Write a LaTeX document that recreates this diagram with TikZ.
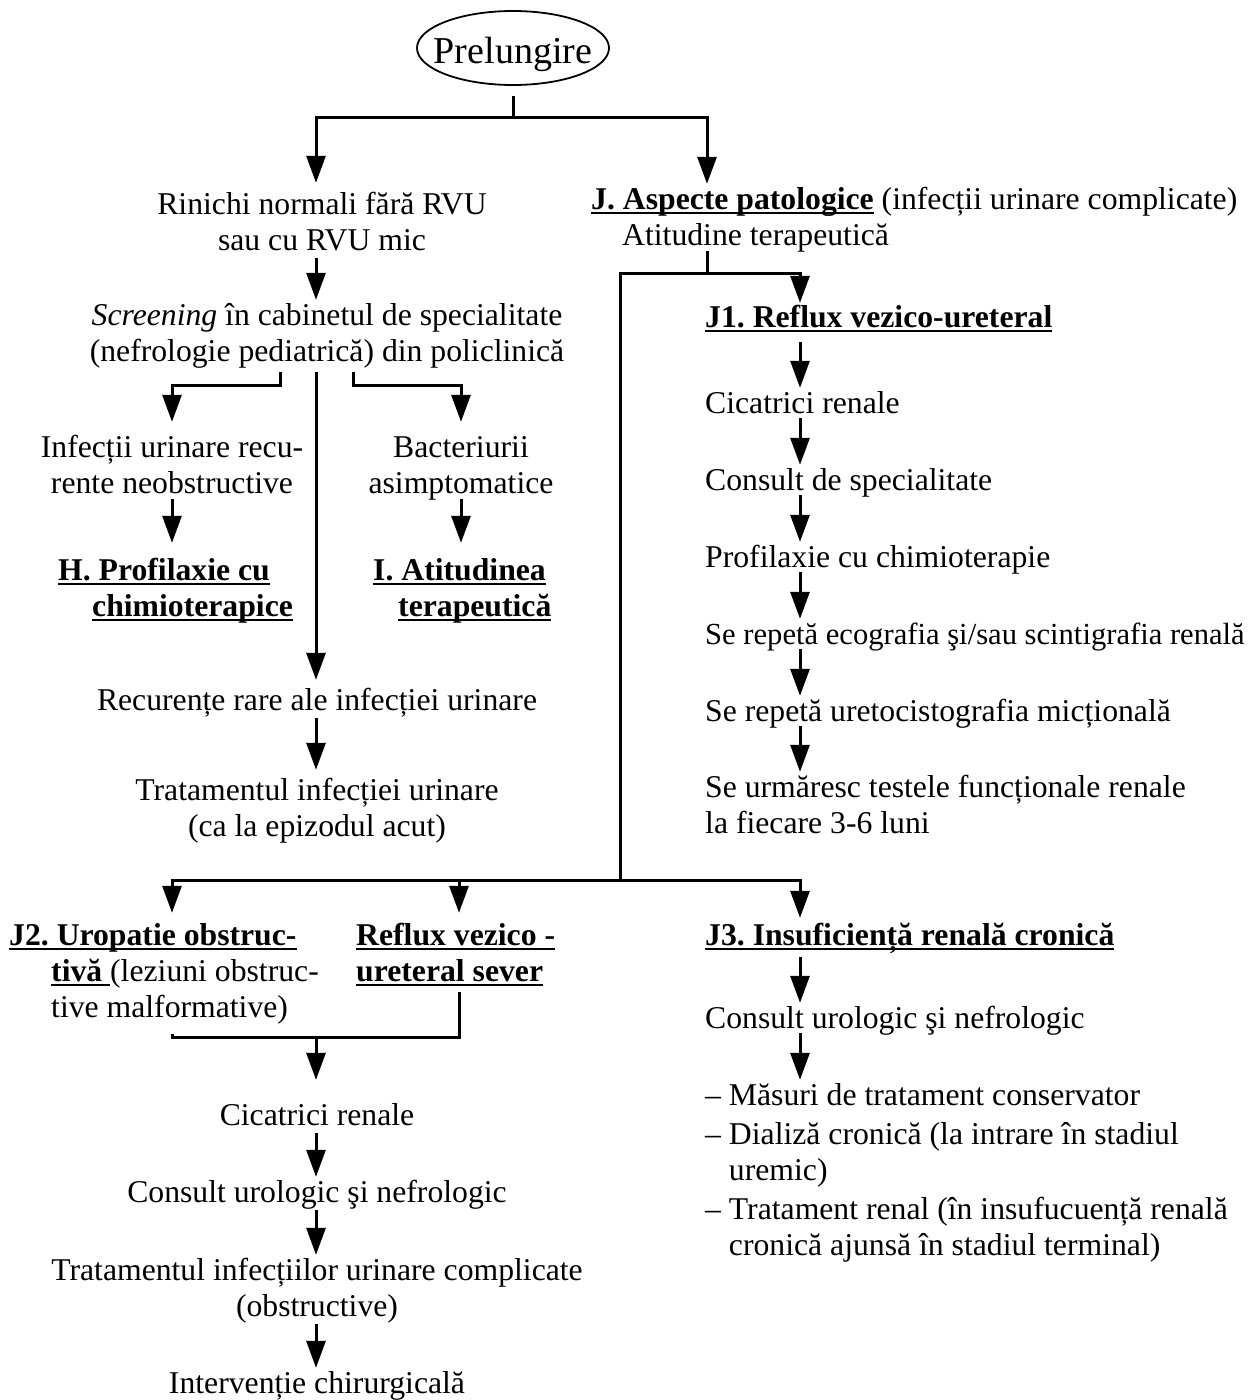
\documentclass[tikz,border=0pt]{standalone}
\usepackage{fontspec}
\setmainfont{Liberation Serif}
\usetikzlibrary{arrows.meta,shapes.geometric,calc}
\newsavebox\ulbox
\newcommand\myul[1]{\sbox\ulbox{#1}\rlap{\rule[-5pt]{\wd\ulbox}{1.8pt}}\usebox\ulbox}
\newcommand\fs{\fontsize{31.7}{36}\selectfont}
\frenchspacing
\begin{document}
\begin{tikzpicture}[x=1pt,y=-1pt,
 ln/.style={line width=3pt},
 arr/.style={line width=3pt,-{Triangle[length=27pt,width=19pt]}},
 txt/.style={inner sep=0pt,font=\fs,align=center,anchor=north},
 ltxt/.style={inner sep=0pt,font=\fs,align=left,anchor=north west}]
\fill[white] (0,0) rectangle (1259,1400);
\useasboundingbox (0,0) rectangle (1259,1400);

% columns and junctions
\coordinate (colA) at (316,0);
\coordinate (colJ) at (800,0);
\coordinate (colR) at (707,0);
\coordinate (colL) at (172,0);
\coordinate (colM) at (459,0);
\coordinate (top) at (513,117);
\coordinate (jh) at (707,273);
\coordinate (vl) at (620,273);
\coordinate (vb) at (620,880);
\coordinate (sh) at (0,385);
\coordinate (sL) at (280,0);
\coordinate (sR) at (353,0);
\coordinate (mh) at (0,1037);

% nodes
\node[ellipse,draw,line width=1.8pt,minimum width=192pt,minimum height=74pt,
      inner xsep=-30pt,inner ysep=0pt,text height=30pt,text depth=0pt,
      font=\fontsize{38}{40}\selectfont] (prel) at (513,48) {Prelungire};

\node[txt] (rin) at (322,188.8) {\strut Rinichi normali fără RVU\\\strut sau cu RVU mic};
\node[txt] (scr) at (327,299.8) {\strut\textit{Screening} în cabinetul de specialitate\\\strut(nefrologie pediatrică) din policlinică};
\node[txt] (inf) at (172,431.8) {\strut Infecții urinare recu-\\\strut rente neobstructive};
\node[txt] (bac) at (461,431.8) {\strut Bacteriurii\\\strut asimptomatice};
\node[ltxt] (H) at (58,554.8) {\strut\myul{\textbf{H. Profilaxie cu}}\\\strut\hspace*{34pt}\myul{\textbf{chimioterapice}}};
\node[ltxt] (I) at (373,554.8) {\strut\myul{\textbf{I. Atitudinea}}\\\strut\hspace*{25pt}\myul{\textbf{terapeutică}}};
\node[txt] (rec) at (317,684.8) {\strut Recurențe rare ale infecției urinare};
\node[txt] (trat) at (317,774.8) {\strut Tratamentul infecției urinare\\\strut(ca la epizodul acut)};

\node[ltxt] (J) at (591,183.8) {\strut\myul{\textbf{J. Aspecte patologice}} (infecții urinare complicate)\\\strut\hspace*{31pt}Atitudine terapeutică};
\node[ltxt] (J1) at (705,301.8) {\strut\myul{\textbf{J1. Reflux vezico-ureteral}}};
\node[ltxt] (c1) at (705,387.8) {\strut Cicatrici renale};
\node[ltxt] (k1) at (705,464.8) {\strut Consult de specialitate};
\node[ltxt] (p1) at (705,541.8) {\strut Profilaxie cu chimioterapie};
\node[ltxt,font=\fontsize{30.6}{36}\selectfont] (e1) at (705,618.8) {\strut Se repetă ecografia şi/sau scintigrafia renală};
\node[ltxt] (u1) at (705,695.8) {\strut Se repetă uretocistografia micțională};
\node[ltxt] (s1) at (705,771.8) {\strut Se urmăresc testele funcționale renale\\\strut la fiecare 3-6 luni};

\node[ltxt] (J2) at (9,919.8) {\strut\myul{\textbf{J2. Uropatie obstruc-}}\\\strut\hspace*{42pt}\myul{\textbf{tivă }}(leziuni obstruc-\\\strut\hspace*{42pt}tive malformative)};
\node[ltxt] (RV) at (356,919.8) {\strut\myul{\textbf{Reflux vezico -}}\\\strut\myul{\textbf{ureteral sever}}};
\node[ltxt] (J3) at (705,919.8) {\strut\myul{\textbf{J3. Insuficiență renală cronică}}};
\node[ltxt] (k3) at (705,1002.8) {\strut Consult urologic şi nefrologic};
\node[ltxt] (L) at (705,1079.8) {\strut – Măsuri de tratament conservator\\[3pt]\strut – Dializă cronică (la intrare în stadiul\\\strut\phantom{– }uremic)\\[3pt]\strut – Tratament renal (în insufucuență renală\\\strut\phantom{– }cronică ajunsă în stadiul terminal)};

\node[txt] (c2) at (317,1099.8) {\strut Cicatrici renale};
\node[txt] (k2) at (317,1176.8) {\strut Consult urologic şi nefrologic};
\node[txt] (t2) at (317,1254.8) {\strut Tratamentul infecțiilor urinare complicate\\\strut(obstructive)};
\node[txt] (iv) at (317,1367.8) {\strut Intervenție chirurgicală};

% connectors: top
\draw[ln] ($(prel.south)+(0,10)$) -- (top);
\draw[arr] (top) -| ($(rin.north -| colA)+(0,-6)$);
\draw[arr] (top) -| (J.north -| colR);

% left branch
\draw[arr] ($(rin.south -| colA)+(0,-3)$) -- (scr.north -| colA);
\draw[arr] (scr.south -| sL) -- (sL |- sh) -| ($(inf.north)+(0,-10)$);
\draw[arr] (scr.south -| sR) -- (sR |- sh) -| ($(bac.north)+(0,-10)$);
\draw[arr] (scr.south -| colA) -- ($(rec.north -| colA)+(0,-5)$);
\draw[arr] ($(inf.south)+(0,-5)$) -- ($(H.north -| inf.south)+(0,-12)$);
\draw[arr] ($(bac.south)+(0,-5)$) -- ($(I.north -| bac.south)+(0,-12)$);
\draw[arr] ($(rec.south -| colA)+(0,-3)$) -- ($(trat.north -| colA)+(0,-5)$);

% right branch
\draw[ln] ($(J.south -| colR)+(0,-5)$) -- (jh);
\draw[arr] (vb) -- (vl) -| ($(J1.north -| colJ)+(0,1)$);
\draw[arr] ($(J1.south -| colJ)+(0,4)$) -- (c1.north -| colJ);
\foreach \a/\b in {c1/k1,k1/p1,p1/e1,e1/u1,u1/s1}
  \draw[arr] ($(\a.south -| colJ)+(0,-6)$) -- (\b.north -| colJ);

% bottom split
\draw[arr] (vb) -| ($(J2.north -| colL)+(0,-7)$);
\draw[arr] (vb) -| ($(J3.north -| colJ)+(0,-2)$);
\draw[arr] (vb -| colM) -- ($(RV.north -| colM)+(0,-7)$);

% merge
\draw[ln] ($(J2.south -| colL)+(0,6)$) -- (colL |- mh) -- (colM |- mh) -- (RV.south -| colM);
\draw[arr] (mh -| colA) -- ($(c2.north -| colA)+(0,-20)$);
\foreach \a/\b in {c2/k2,k2/t2,t2/iv}
  \draw[arr] ($(\a.south -| colA)+(0,-3)$) -- (\b.north -| colA);

% J3 column
\draw[arr] ($(J3.south -| colJ)+(0,1)$) -- (k3.north -| colJ);
\draw[arr] ($(k3.south -| colJ)+(0,-6)$) -- (L.north -| colJ);
\end{tikzpicture}
\end{document}
